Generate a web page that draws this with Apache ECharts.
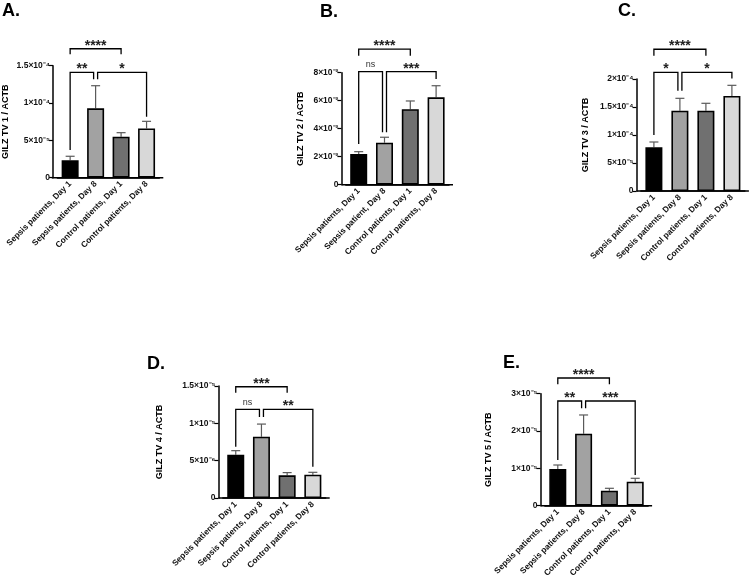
<!DOCTYPE html>
<html><head><meta charset="utf-8">
<script src="https://cdn.jsdelivr.net/npm/echarts@6/dist/echarts.min.js"></script>
<style>html,body{margin:0;padding:0;background:#fff}#c{width:750px;height:582px}</style>
</head><body><div id="c"></div>
<script>
// ---------- data ----------
const categories = ['Sepsis patients, Day 1','Sepsis patients, Day 8','Control patients, Day 1','Control patients, Day 8'];
const categoriesB = ['Sepsis patients, Day 1','Sepsis patient, Day 8','Control patients, Day 1','Control patients, Day 8'];

const meanA = [2.33e-5, 9.29e-5, 5.49e-5, 6.6e-5];
const errA  = [2.87e-5, 1.232e-4, 6.03e-5, 7.55e-5];
const meanB = [0.0219, 0.0300, 0.0539, 0.0624];
const errB  = [0.0236, 0.0339, 0.0598, 0.0707];
const meanC = [7.8e-5, 1.434e-4, 1.434e-4, 1.696e-4];
const errC  = [8.75e-5, 1.655e-4, 1.566e-4, 1.887e-4];
const meanD = [5.8e-6, 8.2e-6, 3.04e-6, 3.12e-6];
const errD  = [6.34e-6, 9.9e-6, 3.4e-6, 3.44e-6];
const meanE = [9.83e-6, 1.93e-5, 4.0e-6, 6.43e-6];
const errE  = [1.09e-5, 2.43e-5, 4.66e-6, 7.34e-6];

const ticksA = ['0','5×10⁻⁵','1×10⁻⁴','1.5×10⁻⁴'];
const ticksB = ['0','2×10⁻²','4×10⁻²','6×10⁻²','8×10⁻²'];
const ticksC = ['0','5×10⁻⁵','1×10⁻⁴','1.5×10⁻⁴','2×10⁻⁴'];
const ticksD = ['0','5×10⁻⁶','1×10⁻⁵','1.5×10⁻⁵'];
const ticksE = ['0','1×10⁻⁵','2×10⁻⁵','3×10⁻⁵'];

// significance brackets: [fromCat, toCat, barLevel, leftLegEnd, rightLegEnd, label]
const bracketsA = [[0,2,1.727e-4,1.652e-4,1.652e-4,'****'],[0,1,1.411e-4,3.71e-5,1.318e-4,'**'],[1,3,1.411e-4,1.318e-4,8.17e-5,'*']];
const bracketsB = [[0,2,0.0969,0.0921,0.0921,'****'],[0,1,0.0807,0.0291,0.0374,'ns'],[1,3,0.0807,0.0374,0.0755,'***']];
const bracketsC = [[0,2,2.531e-4,2.416e-4,2.416e-4,'****'],[0,1,2.12e-4,1.0e-4,1.791e-4,'*'],[1,3,2.12e-4,1.791e-4,2.01e-4,'*']];
const bracketsD = [[0,2,1.49e-5,1.41e-5,1.41e-5,'***'],[0,1,1.188e-5,6.87e-6,1.085e-5,'ns'],[1,3,1.188e-5,1.085e-5,4.19e-6,'**']];
const bracketsE = [[0,2,3.42e-5,3.25e-5,3.25e-5,'****'],[0,1,2.805e-5,1.224e-5,2.609e-5,'**'],[1,3,2.805e-5,2.609e-5,8.22e-6,'***']];

const panels = [
  {letter:'A.', cats:categories,  mean:meanA, err:errA, br:bracketsA, ticks:ticksA, max:1.5e-4, interval:5e-5, ytitle:'GILZ TV 1 / ACTB'},
  {letter:'B.', cats:categoriesB, mean:meanB, err:errB, br:bracketsB, ticks:ticksB, max:0.08,   interval:0.02, ytitle:'GILZ TV 2 / ACTB'},
  {letter:'C.', cats:categories,  mean:meanC, err:errC, br:bracketsC, ticks:ticksC, max:2e-4,   interval:5e-5, ytitle:'GILZ TV 3 / ACTB'},
  {letter:'D.', cats:categories,  mean:meanD, err:errD, br:bracketsD, ticks:ticksD, max:1.5e-5, interval:5e-6, ytitle:'GILZ TV 4 / ACTB'},
  {letter:'E.', cats:categories,  mean:meanE, err:errE, br:bracketsE, ticks:ticksE, max:3e-5,   interval:1e-5, ytitle:'GILZ TV 5 / ACTB'}
];

// ---------- layout / style ----------
const layout = [
  {left:56.1, top:65.7, width:103.2, height:112, nameGap:43, lx:2,   ly:2},
  {left:345.8,top:72.7, width:103.2, height:112, nameGap:36, lx:320, ly:3},
  {left:640.9,top:79,   width:104,   height:112, nameGap:46, lx:618, ly:2},
  {left:222.9,top:386,  width:102.8, height:112, nameGap:54, lx:147, ly:355},
  {left:544.9,top:393.7,width:103.2, height:112, nameGap:47, lx:503, ly:354}
];
const barColors = ['#000000','#a2a2a2','#707070','#d8d8d8'];
const FONT = '"Liberation Sans", Arial, sans-serif';
const AXOFF = 4.4;

const grids=[], xAxes=[], yAxes=[], series=[], titles=[], graphics=[];
panels.forEach((p,i)=>{
  const L = layout[i];
  grids.push({left:L.left, top:L.top, width:L.width, height:L.height, containLabel:false});
  titles.push({text:p.letter, left:L.lx, top:L.ly, padding:0, textStyle:{fontSize:18, fontWeight:'bold', fontFamily:FONT, color:'#000'}});
  xAxes.push({type:'category', gridIndex:i, data:p.cats,
    axisLine:{lineStyle:{color:'#000', width:1.5}},
    axisTick:{alignWithLabel:true, length:3, lineStyle:{color:'#000', width:1.2}},
    axisLabel:{rotate:45, interval:0, fontSize:8.3, fontWeight:'bold', fontFamily:FONT, color:'#111', margin:5}
  });
  yAxes.push({type:'value', gridIndex:i, min:0, max:p.max, interval:p.interval, offset:AXOFF,
    axisLine:{show:true, lineStyle:{color:'#000', width:1.5}},
    axisTick:{show:true, length:4, lineStyle:{color:'#000', width:1.2}},
    splitLine:{show:false},
    axisLabel:{fontSize:8.5, fontWeight:'bold', fontFamily:FONT, color:'#111', margin:3,
      formatter:(v)=>p.ticks[Math.round(v/p.interval)]},
    name:p.ytitle, nameLocation:'middle', nameRotate:90, nameGap:L.nameGap,
    nameTextStyle:{fontSize:9, fontWeight:'bold', fontFamily:FONT, color:'#000'}
  });
  // extend the x axis line to meet the offset y axis and past the last band
  const yb = L.top + L.height;
  graphics.push({type:'line', shape:{x1:L.left-AXOFF, y1:yb, x2:L.left+L.width+4, y2:yb}, style:{stroke:'#000', lineWidth:1.5}, z:10});

  series.push({type:'bar', xAxisIndex:i, yAxisIndex:i, barWidth:17, z:3,
    data:p.mean.map((v,j)=>({value:v, itemStyle:{color:barColors[j]}})),
    itemStyle:{borderColor:'#000', borderWidth:1.6}
  });
  series.push({type:'custom', xAxisIndex:i, yAxisIndex:i, z:2, clip:false,
    encode:{x:0, y:[1,2]},
    data:p.mean.map((v,j)=>[j, v, p.err[j]]),
    renderItem:(params, api)=>{
      const j = api.value(0);
      const p0 = api.coord([j, api.value(1)]), p1 = api.coord([j, api.value(2)]);
      return {type:'group', children:[
        {type:'line', shape:{x1:p0[0], y1:p0[1], x2:p1[0], y2:p1[1]}, style:{stroke:'#5a5a5a', lineWidth:1.2}},
        {type:'line', shape:{x1:p1[0]-4.5, y1:p1[1], x2:p1[0]+4.5, y2:p1[1]}, style:{stroke:'#5a5a5a', lineWidth:1.2}}
      ]};
    }
  });
  const br = p.br;
  series.push({type:'custom', xAxisIndex:i, yAxisIndex:i, z:4, clip:false,
    encode:{x:0, y:2},
    data:br.map(r=>[r[0], r[1], r[2], r[3], r[4]]),
    renderItem:(params, api)=>{
      const row = br[params.dataIndex];
      const [f,t,top,le,re,lab] = row;
      const nudgeL = br.some(o=>o!==row && o[1]===f) ? 2 : 0;
      const nudgeR = br.some(o=>o!==row && o[0]===t) ? -2 : 0;
      const pL = api.coord([f, top]), pR = api.coord([t, top]);
      const yLe = api.coord([f, le])[1], yRe = api.coord([t, re])[1];
      const xL = pL[0]+nudgeL, xR = pR[0]+nudgeR;
      const star = lab !== 'ns';
      return {type:'group', children:[
        {type:'polyline', shape:{points:[[xL,yLe],[xL,pL[1]],[xR,pL[1]],[xR,yRe]]}, style:{stroke:'#000', lineWidth:1.3, fill:null}},
        {type:'text', style:{text:lab, x:(xL+xR)/2, y:pL[1]-(star?3:7), align:'center', verticalAlign:'middle',
          font: star ? 'bold 14px '+FONT : '9px '+FONT, fill: star ? '#222' : '#333'}}
      ]};
    }
  });
});

const chart = echarts.init(document.getElementById('c'), null, {renderer:'canvas'});
chart.setOption({
  backgroundColor:'#fff', animation:false,
  title:titles, grid:grids, xAxis:xAxes, yAxis:yAxes, series:series, graphic:graphics
});
</script></body></html>
